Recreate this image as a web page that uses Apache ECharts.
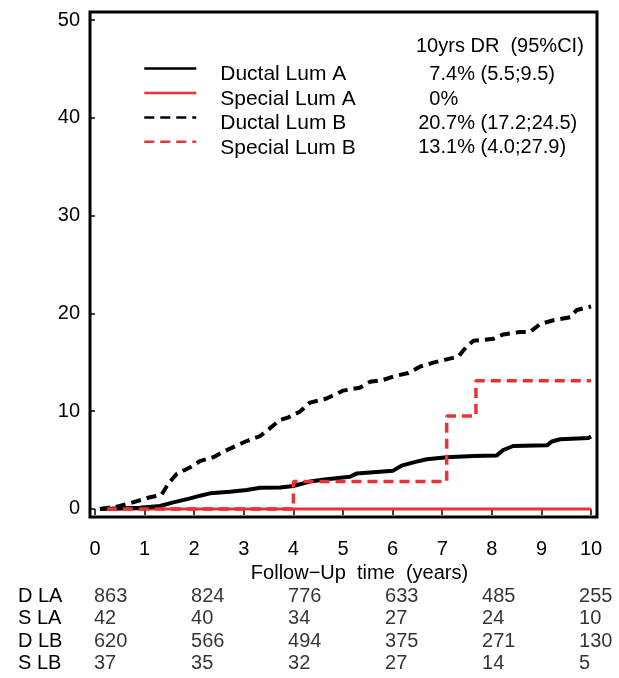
<!DOCTYPE html>
<html>
<head>
<meta charset="utf-8">
<script src="https://cdn.jsdelivr.net/npm/echarts@6/dist/echarts.min.js"></script>
<style>
  html, body { margin: 0; padding: 0; background: #fff; }
  #chart { width: 619px; height: 678px; }
</style>
</head>
<body>
<div id="chart"></div>
<script>
// Cumulative incidence of distant recurrence by histology and luminal subtype
const FONT = "'Liberation Sans', Arial, Helvetica, sans-serif";
const RED = '#ed3237';

const xTicks = [0, 1, 2, 3, 4, 5, 6, 7, 8, 9, 10];
const yTicks = [0, 10, 20, 30, 40, 50];

const seriesNames = ['Ductal Lum A', 'Special Lum A', 'Ductal Lum B', 'Special Lum B'];
const drHeader = '10yrs DR  (95%CI)';
const drLabels = ['  7.4% (5.5;9.5)', '  0%', '20.7% (17.2;24.5)', '13.1% (4.0;27.9)'];

// Ductal Lum A (years, %)
const ductalLumA_t = [0.1, 0.91, 1.31, 1.58, 1.92, 2.12, 2.32, 2.72, 3.06, 3.33, 3.73, 4.0, 4.33, 4.67,
  5.14, 5.28, 6.01, 6.18, 6.48, 6.69, 7.09, 7.63, 8.1, 8.23, 8.43, 9.11, 9.21, 9.38, 9.95, 10.0];
const ductalLumA_v = [0, 0.13, 0.3, 0.68, 1.09, 1.36, 1.6, 1.77, 1.94, 2.18, 2.2, 2.35, 2.8, 3.05,
  3.3, 3.64, 3.92, 4.43, 4.84, 5.08, 5.28, 5.42, 5.48, 6.03, 6.44, 6.51, 6.9, 7.13, 7.26, 7.4];

// Special Lum A
const specialLumA_t = [0.24, 10.0];
const specialLumA_v = [0, 0];

// Ductal Lum B
const ductalLumB_t = [0.1, 0.44, 0.7, 1.11, 1.34, 1.48, 1.65, 1.92, 2.12, 2.39, 2.59, 2.86, 3.06, 3.33,
  3.49, 3.73, 3.9, 4.13, 4.33, 4.67, 5.0, 5.34, 5.54, 5.81, 6.05, 6.32, 6.55, 6.82, 7.09, 7.33,
  7.49, 7.63, 8.03, 8.23, 8.57, 8.77, 8.97, 9.24, 9.58, 9.71, 10.0];
const ductalLumB_v = [0, 0.24, 0.58, 1.2, 1.43, 2.6, 3.6, 4.26, 4.9, 5.3, 5.86, 6.5, 6.95, 7.46,
  8.1, 9.1, 9.37, 9.95, 10.87, 11.3, 12.1, 12.4, 13.0, 13.2, 13.6, 13.9, 14.55, 14.96, 15.3, 15.6,
  16.6, 17.2, 17.4, 17.85, 18.1, 18.1, 18.9, 19.3, 19.6, 20.35, 20.7];

// Special Lum B (step function)
const specialLumB_t = [0.24, 4.0, 7.09, 7.68, 10.0];
const specialLumB_v = [0, 2.8, 9.5, 13.1, 13.1];

// Numbers at risk
const riskTimes = [0, 2, 4, 6, 8, 10];
const riskRows = ['D LA', 'S LA', 'D LB', 'S LB'];
const riskDLA = [863, 824, 776, 633, 485, 255];
const riskSLA = [42, 40, 34, 27, 24, 10];
const riskDLB = [620, 566, 494, 375, 271, 130];
const riskSLB = [37, 35, 32, 27, 14, 5];
const riskValues = [riskDLA, riskSLA, riskDLB, riskSLB];

const zip = (t, v) => t.map((x, i) => [x, v[i]]);

const riskData = [];
riskRows.forEach((row, r) => {
  riskTimes.forEach((t, i) => riskData.push([t, row, riskValues[r][i]]));
});

const curveStyles = [
  { color: '#000', width: 4, type: 'solid' },
  { color: RED, width: 3, type: 'solid' },
  { color: '#000', width: 4, type: [10, 6] },
  { color: RED, width: 3.5, type: [10, 6] }
];
const curveData = [
  zip(ductalLumA_t, ductalLumA_v),
  zip(specialLumA_t, specialLumA_v),
  zip(ductalLumB_t, ductalLumB_v),
  zip(specialLumB_t, specialLumB_v)
];

const chart = echarts.init(document.getElementById('chart'), null, { renderer: 'canvas' });

const curveSeries = seriesNames.map((name, i) => ({
  name,
  type: 'line',
  xAxisIndex: 0,
  yAxisIndex: 0,
  data: curveData[i],
  step: i === 3 ? 'end' : false,
  showSymbol: false,
  symbol: 'none',
  color: curveStyles[i].color,
  lineStyle: curveStyles[i],
  z: i === 1 ? 1 : 2,
  animation: false
}));

chart.setOption({
  animation: false,
  textStyle: { fontFamily: FONT, color: '#000' },
  title: {
    text: drHeader,
    left: 416,
    top: 36,
    padding: 0,
    textStyle: { fontFamily: FONT, fontSize: 20, fontWeight: 'normal', color: '#000' }
  },
  legend: {
    orient: 'vertical',
    left: 143,
    top: 63,
    padding: 0,
    itemGap: 2.3,
    itemWidth: 52,
    itemHeight: 14,
    data: seriesNames,
    lineStyle: { width: 2.5 },
    itemStyle: { opacity: 0, borderWidth: 0 },
    formatter: name => {
      const i = seriesNames.indexOf(name);
      return '{n|' + name + '}{v|' + drLabels[i] + '}';
    },
    textStyle: {
      fontFamily: FONT,
      fontSize: 20,
      color: '#000',
      padding: [12, 0, 0, 19],
      rich: {
        n: { fontFamily: FONT, fontSize: 21, color: '#000', width: 198, lineHeight: 14.5 },
        v: { fontFamily: FONT, fontSize: 20, color: '#000', lineHeight: 14.5 }
      }
    }
  },
  grid: [
    { left: 90, top: 12, width: 507, height: 505, show: true, borderColor: '#000', borderWidth: 3, backgroundColor: 'transparent' },
    { left: 90, top: 585, width: 507, height: 90, show: false }
  ],
  xAxis: [
    {
      type: 'value',
      gridIndex: 0,
      min: -0.1,
      max: 10.12,
      name: 'Follow\u2212Up  time  (years)',
      nameLocation: 'middle',
      nameGap: 46,
      nameTextStyle: { fontFamily: FONT, fontSize: 20, color: '#000', padding: [0, 0, 0, 32] },
      axisLine: { show: false },
      axisTick: { show: true, inside: false, length: 6, customValues: xTicks, lineStyle: { color: '#000', width: 1.5 } },
      axisLabel: { customValues: xTicks, fontFamily: FONT, fontSize: 20, color: '#000', margin: 22 },
      splitLine: { show: false }
    },
    {
      // at-risk table columns
      type: 'value',
      gridIndex: 1,
      min: -0.0825,
      max: 10.371,
      show: false
    }
  ],
  yAxis: [
    {
      type: 'value',
      gridIndex: 0,
      min: -0.82,
      max: 50.82,
      axisLine: { show: false },
      axisTick: { show: true, inside: false, length: 6, customValues: yTicks, lineStyle: { color: '#000', width: 1.5 } },
      axisLabel: { customValues: yTicks, fontFamily: FONT, fontSize: 20, color: '#000', margin: 10 },
      splitLine: { show: false }
    },
    {
      type: 'category',
      gridIndex: 1,
      data: riskRows,
      inverse: true,
      axisLine: { show: false },
      axisTick: { show: false },
      axisLabel: { interval: 0, align: 'left', margin: 72, fontFamily: FONT, fontSize: 20, color: '#000' },
      splitLine: { show: false }
    }
  ],
  series: curveSeries.concat([{
    name: 'At risk',
    type: 'scatter',
    xAxisIndex: 1,
    yAxisIndex: 1,
    data: riskData,
    symbolSize: 0,
    silent: true,
    label: {
      show: true,
      position: [0, 0],
      align: 'left',
      verticalAlign: 'middle',
      fontFamily: FONT,
      fontSize: 20,
      color: '#000',
      formatter: p => String(p.value[2])
    }
  }])
});
</script>
</body>
</html>
